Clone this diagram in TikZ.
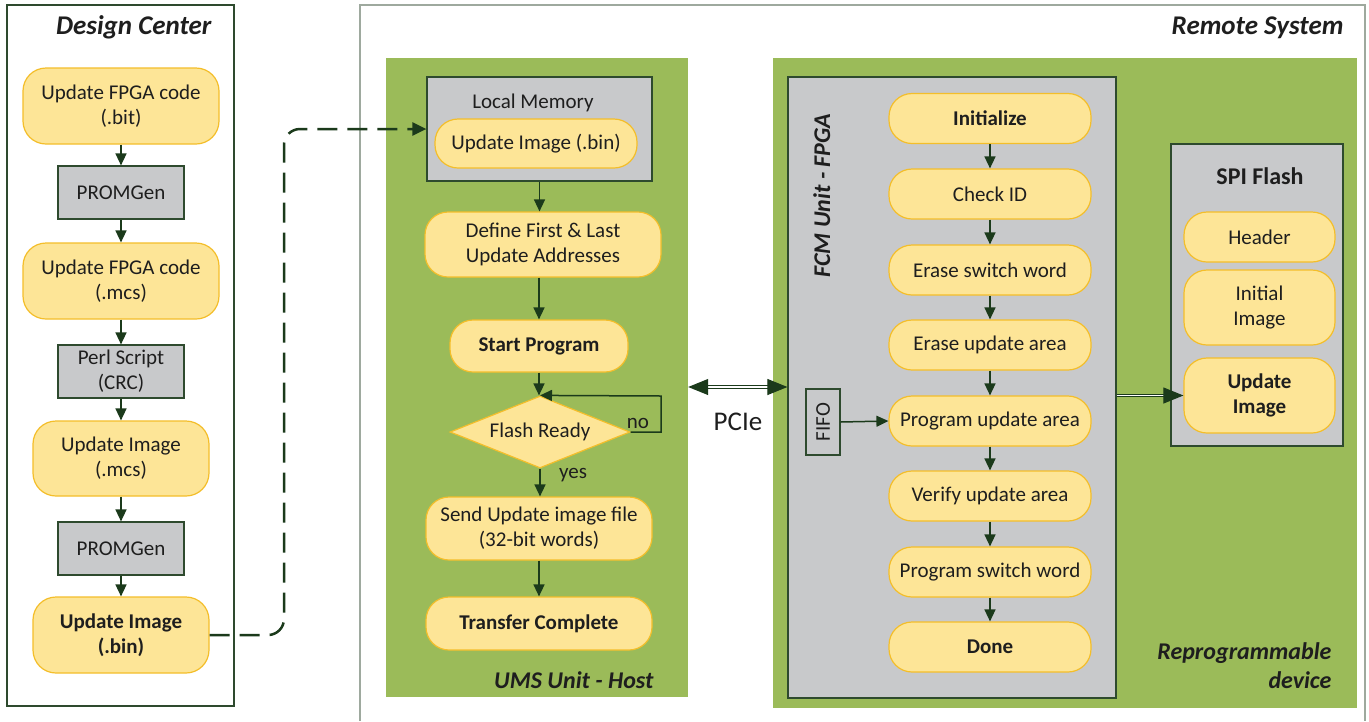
\documentclass[tikz,border=0pt]{standalone}
\usepackage{fontspec}
\setmainfont{Carlito}
\usetikzlibrary{arrows.meta,shapes.geometric}
\definecolor{yfill}{HTML}{FDE597}
\definecolor{ybord}{HTML}{F4BE2A}
\definecolor{gfill}{HTML}{C8C9CB}
\definecolor{gbord}{HTML}{2E4A2E}
\definecolor{pgreen}{HTML}{9BBB59}
\definecolor{agreen}{HTML}{1B3A1B}
\definecolor{txt}{HTML}{1E1E1E}
\definecolor{rsys}{HTML}{9EA99E}
\begin{document}
\begin{tikzpicture}[x=1pt,y=-1pt,
 every node/.style={font=\fontsize{21}{25}\selectfont,text=txt},
 sz/.style 2 args={minimum width=#1,minimum height=#2},
 yb/.style={draw=ybord,fill=yfill,line width=1.2pt,rounded corners=23pt,align=center,inner sep=0pt},
 gb/.style={draw=gbord,fill=gfill,line width=1.2pt,align=center,inner sep=0pt},
 panel/.style={fill=pgreen,inner sep=0pt},
 arr/.style={draw=agreen,line width=1.5pt,-{Triangle[length=12pt,width=11pt]}},
 dbl/.style={draw=agreen,double=white,double distance=1.6pt,line width=1pt},
 ttl/.style={font=\fontsize{27}{32}\selectfont\bfseries\itshape},
 sttl/.style={font=\fontsize{24}{29}\selectfont\bfseries\itshape},
 bf/.style={font=\fontsize{21}{25}\selectfont\bfseries},
]
\useasboundingbox[fill=white] (0,0) rectangle (1369,721);

% ---------- Design Center ----------
\node[draw=gbord,line width=1.2pt,inner sep=0pt,sz={227pt}{701pt}] (dcbox) at (120.5,355.5) {};
\node[ttl,anchor=base east] (dctitle) at (215,34) {Design Center};
\node[yb,sz={196pt}{76pt}] (dc1) at (121,106) {Update FPGA code\\(.bit)};
\node[gb,sz={126pt}{53pt}] (dc2) at (121,192.5) {PROMGen};
\node[yb,sz={196pt}{76pt}] (dc3) at (121,281) {Update FPGA code\\(.mcs)};
\node[gb,sz={126pt}{53pt}] (dc4) at (121,371.5) {Perl Script\\(CRC)};
\node[yb,sz={176pt}{75pt}] (dc5) at (121,458.5) {Update Image\\(.mcs)};
\node[gb,sz={126pt}{53pt}] (dc6) at (121,548.5) {PROMGen};
\node[yb,sz={176pt}{76pt},bf] (dc7) at (121,635) {Update Image\\(.bin)};
\foreach \a/\b in {dc1/dc2,dc2/dc3,dc3/dc4,dc4/dc5,dc5/dc6,dc6/dc7}
  \draw[arr] (\a.south) -- (\b.north);

% ---------- Remote System ----------
\draw[rsys,line width=2pt] (360,721) -- (360,5) -- (1365,5) -- (1365,721);
\node[ttl,anchor=base east] (rstitle) at (1347,34) {Remote System};

% UMS panel
\node[panel,sz={302pt}{639pt}] (ums) at (537,377.5) {};
\node[sttl,anchor=base east] (umstitle) at (657,688) {UMS Unit - Host};
\node[gb,sz={225pt}{104pt}] (lmbox) at (539.5,129) {};
\node[anchor=base] (lmtext) at (533,108) {Local Memory};
\node[yb,sz={202pt}{49pt}] (lm) at (536,143.5) {Update Image (.bin)};
\node[yb,sz={236pt}{65pt}] (def) at (543,244.5) {Define First \& Last\\Update Addresses};
\node[yb,sz={178pt}{52pt},bf] (start) at (539,346) {Start Program};
\node[draw=ybord,fill=yfill,line width=1.2pt,diamond,aspect=2.5,inner sep=0pt,sz={180pt}{72pt}] (fr) at (540,432) {Flash Ready};
\node[yb,sz={226pt}{63pt}] (send) at (539,528.5) {Send Update image file\\(32-bit words)};
\node[yb,sz={226pt}{53pt},bf] (tc) at (539,623.5) {Transfer Complete};
\coordinate (loopc) at (661,396);
\draw[arr] (lmbox.south) -- (lmbox.south |- def.north);
\draw[arr] (start.south |- def.south) -- (start.north);
\draw[arr] (start.south) -- (start.south |- fr.north);
\draw[arr] (fr.south) -- (fr.south |- send.north);
\draw[arr] (send.south) -- (tc.north);
\draw[arr] (fr.east) -| (loopc) -- (fr.north);
\node[anchor=base] (nolbl) at (638,428) {no};
\node[anchor=base] (yeslbl) at (573,478) {yes};

% dashed connector
\coordinate (dv) at (284,400);
\draw[draw=agreen,line width=2.5pt,dash pattern=on 20pt off 10pt,rounded corners=16pt,-{Triangle[length=14pt,width=13pt]}]
  (dc7.east) -| (dv) |- (lmbox.west);

% Reprogrammable device panel
\node[panel,sz={584pt}{650pt}] (rep) at (1065,383) {};
\node[sttl,anchor=base east] (rep1) at (1335,659) {Reprogrammable};
\node[sttl,anchor=base east] (rep2) at (1335,688) {device};
\node[gb,sz={328pt}{621pt}] (fcm) at (952,387.5) {};
\node[sttl,rotate=90,anchor=base east] (fcmtitle) at (830,110) {FCM Unit - FPGA};
\node[yb,sz={202pt}{50pt},bf] (f1) at (990,118.5) {Initialize};
\node[yb,sz={202pt}{50pt}] (f2) at (990,194) {Check ID};
\node[yb,sz={202pt}{50pt}] (f3) at (990,270) {Erase switch word};
\node[yb,sz={202pt}{50pt}] (f4) at (990,345) {Erase update area};
\node[yb,sz={202pt}{50pt}] (f5) at (990,421) {Program update area};
\node[yb,sz={202pt}{50pt}] (f6) at (990,496) {Verify update area};
\node[yb,sz={202pt}{50pt}] (f7) at (990,572) {Program switch word};
\node[yb,sz={202pt}{50pt},bf] (f8) at (990,647) {Done};
\foreach \a/\b in {f1/f2,f2/f3,f3/f4,f4/f5,f5/f6,f6/f7,f7/f8}
  \draw[arr] (\a.south) -- (\b.north);
\node[gb,rotate=90,sz={66pt}{34pt}] (fifo) at (823,422) {FIFO};
\draw[arr] (fifo.south) -- (f5.west);

% SPI flash
\node[gb,sz={172pt}{302pt}] (spi) at (1257,295) {};
\node[bf,font=\fontsize{24}{29}\selectfont\bfseries,anchor=base] (spititle) at (1260,184) {SPI Flash};
\node[yb,sz={151pt}{50pt}] (s1) at (1259.5,237) {Header};
\node[yb,sz={151pt}{75pt}] (s2) at (1259.5,307.5) {Initial\\Image};
\node[yb,sz={151pt}{75pt},bf] (s3) at (1259.5,395.5) {Update\\Image};
\draw[dbl,-{Triangle[length=20pt,width=16pt]}] (fcm.east |- s3.west) -- (s3.west);

% PCIe
\coordinate (pcy) at (738,387);
\draw[dbl,{Triangle[length=20pt,width=16pt]}-{Triangle[length=20pt,width=16pt]}] (pcy -| ums.east) -- (pcy -| fcm.west);
\node[font=\fontsize{27}{32}\selectfont,anchor=base] (pcie) at (738,430) {PCIe};
\end{tikzpicture}
\end{document}
